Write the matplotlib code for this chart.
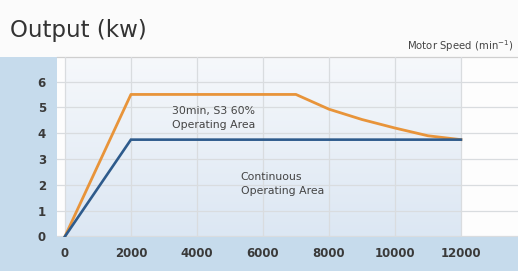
import matplotlib
matplotlib.use("Agg")
import matplotlib.pyplot as plt
import numpy as np
from matplotlib.patches import Rectangle
from matplotlib.colors import LinearSegmentedColormap

# Data
speed_s3 = [0, 2000, 7000, 8000, 9000, 10000, 11000, 12000]
power_s3 = [0, 5.5, 5.5, 4.93, 4.53, 4.2, 3.9, 3.75]
speed_cont = [0, 2000, 12000]
power_cont = [0, 3.75, 3.75]
xticks = [0, 2000, 4000, 6000, 8000, 10000, 12000]
yticks = [0, 1, 2, 3, 4, 5, 6]

W, H = 518, 271
fig = plt.figure(figsize=(W / 100, H / 100), dpi=100)
fig.patch.set_facecolor("#fbfbfb")

band = "#c6dbec"
# left and bottom bands (figure coords)
fig.patches.append(Rectangle((0, 0), 57 / W, (H - 57) / H, transform=fig.transFigure,
                             facecolor=band, edgecolor="none", zorder=-5))
fig.patches.append(Rectangle((0, 0), 1, (H - 237) / H, transform=fig.transFigure,
                             facecolor=band, edgecolor="none", zorder=-5))

ax = fig.add_axes([57 / W, (H - 237) / H, 1 - 57 / W, (237 - 57) / H])
ax.set_facecolor("#fdfdfd")
ax.set_xlim(-240, 13730)
ax.set_ylim(-0.02, 6.95)

# gradient shaded region 0..12000
grad = np.linspace(0, 1, 100).reshape(-1, 1)
cmap = LinearSegmentedColormap.from_list("g", ["#dce7f3", "#f6f8fb"])
ax.imshow(grad, extent=[0, 12000, -0.02, 6.95], origin="lower", cmap=cmap,
          aspect="auto", zorder=0.5)

ax.set_xticks(xticks)
ax.set_yticks(yticks)
ax.grid(True, color="#d9dcdf", linewidth=0.9, zorder=1)
ax.set_axisbelow(False)
for s in ["left", "right", "bottom"]:
    ax.spines[s].set_visible(False)
ax.spines["top"].set_color("#cfcfcf")
ax.spines["top"].set_linewidth(0.9)
ax.tick_params(length=0, colors="#3a3a3a")
ax.tick_params(axis="x", pad=7)
ax.tick_params(axis="y", pad=8)
for lbl in ax.get_xticklabels() + ax.get_yticklabels():
    lbl.set_fontweight("bold")
    lbl.set_fontsize(8.5)

ax.plot(speed_s3, power_s3, color="#e8943a", linewidth=2.0, zorder=3,
        solid_joinstyle="round")
ax.plot(speed_cont, power_cont, color="#2e5b8c", linewidth=1.9, zorder=4,
        solid_joinstyle="miter")

narrow = ["Liberation Sans Narrow", "DejaVu Sans"]
ax.text(3250, 4.6, "30min, S3 60%\nOperating Area", fontsize=7.8, color="#444444",
        family=narrow, va="center", ha="left", linespacing=1.5, zorder=5)
ax.text(5330, 2.03, "Continuous\nOperating Area", fontsize=7.8, color="#444444",
        family=narrow, va="center", ha="left", linespacing=1.5, zorder=5)

fig.text(10 / W, 1 - 30 / H, "Output (kw)", fontsize=16.5, color="#333333",
         va="center", ha="left", fontweight="medium")
fig.text(513 / W, 1 - 46 / H, "Motor Speed (min$^{-1}$)", fontsize=7.3,
         color="#444444", va="center", ha="right")

fig.savefig("out.png", dpi=100, facecolor=fig.get_facecolor())
